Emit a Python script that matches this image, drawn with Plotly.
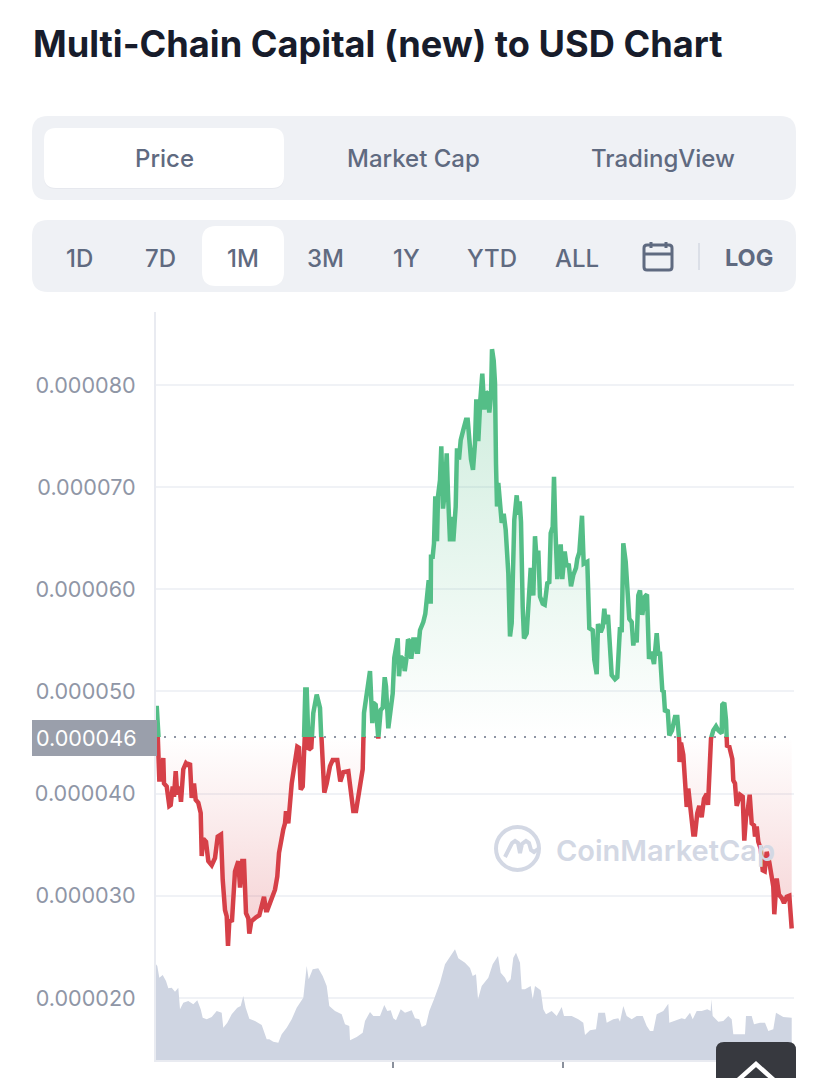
import plotly.graph_objects as go

W, H = 828, 1078

# price in millionths of a dollar, time in hours from the start of the window
price_hours = [0.7, 2, 3.3, 5, 6.3, 7.3, 8, 10.7, 13.3, 14.7, 16.7, 18, 19.7, 21.3, 23.3, 25, 27.3, 30, 32.3, 34, 35.7, 38, 39.7, 42.3, 44.7, 45.7, 47.3, 50, 52.3, 55.7, 59, 61.7, 65, 66.7, 69, 70.7, 72, 73.3, 76, 79, 82.3, 84, 86.3, 88, 90, 92.3, 93.3, 95.3, 100, 103.3, 108, 110, 111.3, 114, 119, 121.3, 123, 127.3, 129, 130, 132.3, 135.7, 139, 141.3, 143, 144.7, 146.7, 148, 149.3, 150.7, 152.7, 155.3, 157.3, 160.7, 164, 165.3, 166, 168.3, 170.7, 174, 176.7, 181.3, 184.3, 187.3, 192.3, 195, 197.3, 200, 204, 206.7,
               208, 210, 213, 214, 216.3, 217.3, 219.7, 222.3, 224.7, 226.7, 228.7, 230, 232.3, 234.7, 236.7, 238.3, 241.7, 243, 244.7, 247.3, 248.7, 250.7, 252, 253.7, 255.3, 257.3, 259, 260.7, 262, 264, 267.3, 269.3, 270.7, 272.7, 274.7, 275, 276.7, 278, 279.3, 281, 282, 284, 285.3, 287, 289, 290.7, 292, 294, 295.7, 297.3, 299.7, 301, 303, 304.7, 307.3, 310, 311.7, 313.3, 315, 317, 319, 320.3, 322.3, 324.3, 326.3, 328.3, 330, 331.3, 333.3, 335, 336, 337.7, 339, 340, 341, 342.3, 344, 345.7, 347.7, 349.7, 352.3, 354, 355.7, 358.3, 360.7, 362.3, 363.7, 365, 366.7, 368, 370.7, 373, 374.7, 377.3, 379, 380.7, 382.3, 384, 386.7, 388.7, 391.3, 393.3, 394.7, 396.7, 398, 399.3, 401.3, 404.7, 406.3, 408.7, 410.7, 412.7, 415, 417.3, 420, 421.3, 423.3, 426, 427.7, 431.3,
               433.3, 436.7, 438.3, 440.7, 442, 444.7, 446.7, 448.3, 449.7, 452, 454, 455.7, 459, 461.3, 464, 465.7, 467.3, 469.7, 473.3, 475.7, 477.3, 479, 480.7, 482.3, 484, 486.3, 489, 491, 493, 495.3, 498, 500.7, 502.3, 504, 506.3, 507.7, 509, 511.7, 513.3, 516, 519, 521.3, 523.3, 523.5, 525, 527.3, 529.3, 530.7, 532.3, 534.7, 537.3, 539, 541.3, 543.3, 545.7, 548, 550.7, 552, 553.7, 555, 557.3, 560, 562.3, 565.7, 566.3, 568.3, 570, 571, 573.3, 576.3, 577.3, 579, 580.7, 584, 586.7, 588.3, 590, 591.7, 593.7, 595.7, 598, 599, 600.7, 602.3, 604.7, 606.7, 608.7, 610.7, 613.3, 615.7, 617.3, 618.3, 620.7, 623, 625.7, 628, 630.7, 633.3, 634.7, 635.7]
price_micro = [48.6, 45.3, 41.4, 41.4, 43.5, 43.5, 41.0, 40.7, 38.8, 38.9, 40.7, 39.7, 42.2, 39.9, 40.7, 39.2, 42.4, 43.0, 42.8, 43.0, 39.6, 41.0, 39.4, 39.1, 38.1, 33.9, 35.6, 35.3, 33.4, 33.0, 33.7, 35.8, 36.0, 31.6, 28.6, 28.0, 25.1, 27.5, 27.6, 32.4, 33.4, 30.8, 33.4, 33.4, 28.3, 27.8, 26.3, 27.5, 27.9, 28.1, 29.9, 28.6, 28.6, 29.4, 30.6, 31.9, 34.2, 36.5, 37.1, 38.3, 37.1, 41.0, 43.3, 44.6, 44.5, 40.4, 40.7, 45.3, 50.2, 50.2, 44.3, 44.5, 47.9, 49.7, 48.4, 45.3, 43.8, 40.1, 41.0, 42.7, 43.3, 43.3, 41.2, 42.1, 42.2, 39.9, 38.3, 38.3, 41.0, 42.4,
               47.9, 49.3, 52.0, 52.0, 46.9, 48.9, 48.7, 45.4, 48.2, 48.4, 51.4, 50.5, 46.4, 48.2, 49.8, 53.3, 55.2, 51.5, 53.4, 53.2, 52.0, 53.4, 55.1, 54.9, 53.2, 55.1, 55.1, 53.9, 53.9, 56.0, 56.8, 57.6, 59.6, 60.9, 58.6, 63.2, 63.2, 64.5, 69.1, 64.7, 69.1, 70.7, 74.0, 67.9, 69.7, 73.3, 69.4, 64.7, 67.1, 64.7, 68.1, 73.8, 72.7, 74.6, 75.6, 76.6, 76.6, 74.0, 72.7, 71.7, 74.3, 78.6, 74.5, 78.5, 81.1, 77.6, 79.3, 79.2, 77.3, 78.9, 83.5, 82.4, 80.2, 72.3, 68.1, 70.4, 68.1, 66.5, 67.4, 65.8, 61.6, 55.4, 56.7, 66.8, 69.2, 67.3, 68.6, 66.6, 58.3, 55.2, 55.7, 59.0, 62.1, 59.4, 65.2, 62.8, 63.8, 59.3, 58.6, 58.5, 60.6, 60.7, 65.5, 66.1, 71.0, 66.1, 61.0, 64.4, 61.0, 63.7, 62.2, 62.5, 60.3, 61.4, 62.1, 63.0, 63.6, 67.2, 62.5, 62.7,
               56.2, 56.0, 53.1, 51.7, 56.6, 55.8, 56.3, 58.1, 56.6, 57.5, 53.1, 51.6, 51.2, 51.4, 56.3, 55.8, 64.5, 62.7, 57.1, 56.8, 54.5, 55.7, 54.8, 59.4, 59.9, 57.5, 59.3, 59.5, 53.2, 53.9, 52.7, 55.7, 53.7, 53.7, 50.1, 50.0, 48.0, 48.2, 45.7, 46.2, 47.5, 47.5, 45.1, 43.1, 45.0, 43.8, 41.0, 38.7, 40.5, 38.1, 36.0, 36.0, 38.1, 38.8, 37.7, 39.5, 40.0, 38.9, 42.0, 45.4, 46.2, 46.6, 46.2, 45.9, 48.7, 48.9, 47.2, 44.7, 44.6, 43.4, 41.3, 41.0, 38.8, 39.9, 39.7, 35.4, 37.7, 38.4, 39.9, 37.1, 36.9, 35.8, 36.8, 35.3, 34.6, 32.5, 32.4, 34.3, 33.3, 31.5, 30.9, 28.2, 31.7, 30.1, 29.8, 29.3, 29.9, 30.0, 28.7, 26.8]
reference_micro = 45.55

volume_hours = [0, 1.3, 3.3, 6.7, 10, 12.3, 15.7, 19, 22.3, 24, 27.3, 32.3, 37.3, 41.3, 44.7, 46.7, 50.7, 55.7, 60.7, 65.7, 67.3, 71.3, 75.7, 81.3, 84.7, 87.3, 89.7, 93.3, 99, 105.7, 110.7, 113.3, 117.3, 122.3, 125.7, 130.7, 135.7, 140.7, 147.3, 149, 150.7, 152.7, 156.7, 162.3, 166.7, 170.7, 173.3, 179, 185.7, 189, 193.3, 194, 200.7, 206.7, 209, 214, 217.3, 224, 228.3, 231.3, 234.7, 237.3, 240, 244.7, 249, 255.7, 259, 263.3, 265.7, 270, 273.3, 278, 284, 289, 295.7, 299, 302.3, 309, 314, 316.7, 320, 322, 325.7, 332.3, 336.7, 342, 344.7, 349, 351.3, 354.7, 357.3, 360, 364, 365.7, 369, 374.7, 376.7, 379, 384.7, 387.3, 390, 395.7, 400.7, 405.7, 408, 415.7, 422.3, 427.3, 429, 434, 440, 442.3, 449, 450.7, 457.3, 462.3, 464, 467.3, 470.7, 475.7, 480.7, 486.7, 490.7, 494, 497.3, 500.7, 507.3, 512.3, 513.3, 519, 525.7, 529, 534, 536.7, 540.7, 545.7, 551.3, 554.7, 555.3, 556.7, 562.3, 567.3, 572.3, 575.7, 577.3, 589, 590, 595.7, 598, 604, 609, 612.3, 617.3, 620, 627.3, 635.7]
volume_values = [95.7, 94, 82.3, 85, 79, 71.7, 72.3, 68.3, 72.3, 50.7, 57.3, 59, 55.7, 59.7, 50.7, 42.3, 40.7, 43, 49, 47.3, 32.3, 37.3, 45.7, 52.3, 54, 64, 52.3, 41.3, 39, 35, 20.7, 20.7, 18.3, 17.3, 25.7, 32.3, 40.7, 52.3, 62.3, 80.7, 94, 80.7, 90.7, 91.7, 84, 74, 54, 49, 45.7, 35.7, 34, 19.7, 23, 27.3, 39, 48, 44, 44, 55, 49, 49.7, 41.7, 39.7, 50.7, 47.3, 49.7, 41.7, 40.7, 33, 35, 49, 60.7, 77.3, 95.7, 105.7, 110.7, 101.7, 97.3, 92, 84, 85.7, 60.7, 74, 82.3, 95.7, 104, 87.3, 82.3, 77.3, 80.7, 102.3, 107.3, 97.3, 70.7, 70.7, 74, 60.7, 74, 69.7, 50.7, 45.7, 49, 44, 53, 44, 44, 40.7, 37.3, 25, 29.7, 30.7, 47.3, 47.3, 37.3, 40.7, 41.7, 38.3, 54, 44, 40.7, 44, 44, 34, 29, 29, 45.7, 49, 56.3, 37.3, 39, 41.7, 40.7, 47.3, 40.7, 49, 49, 50.7, 49, 60.7, 44, 38.3, 39, 44, 40.7, 25.7, 25.7, 44, 44, 35.7, 37.3, 37.3, 29, 30.7, 47.3, 43, 42.3]

y_ticks = [20, 30, 40, 50, 60, 70, 80]
y_tick_labels = ["0.000020", "0.000030", "0.000040", "0.000050", "0.000060", "0.000070", "0.000080"]
x_ticks = [237, 407, 577]

tabs = ["Price", "Market Cap", "TradingView"]
ranges = ["1D", "7D", "1M", "3M", "1Y", "YTD", "ALL"]

FONT = "Inter"
GREEN = "rgb(84,190,135)"
RED = "rgb(214,64,72)"
GRID = "#f0f2f6"
PANEL = "#eff1f5"
SLATE = "#5f6a80"
MARK = "#d3d8e4"

# plot box in page pixels
LEFT, RIGHT, TOP, BOTTOM, BASE = 156, 794, 312, 1060, 737
Y_MIN, Y_MAX = 13.93, 87.14


def fx(x):
    return x / W


def fy(y):
    return 1 - y / H


def rrect(x0, y0, x1, y1, r, fill):
    path = (f"M {fx(x0 + r)} {fy(y0)} L {fx(x1 - r)} {fy(y0)} Q {fx(x1)} {fy(y0)} {fx(x1)} {fy(y0 + r)} "
            f"L {fx(x1)} {fy(y1 - r)} Q {fx(x1)} {fy(y1)} {fx(x1 - r)} {fy(y1)} "
            f"L {fx(x0 + r)} {fy(y1)} Q {fx(x0)} {fy(y1)} {fx(x0)} {fy(y1 - r)} "
            f"L {fx(x0)} {fy(y0 + r)} Q {fx(x0)} {fy(y0)} {fx(x0 + r)} {fy(y0)} Z")
    return dict(type="path", xref="paper", yref="paper", path=path, fillcolor=fill, line=dict(width=0), layer="above")


def stroke(points, color, width):
    path = "M " + " L ".join(f"{fx(a)} {fy(b)}" for a, b in points)
    return dict(type="path", xref="paper", yref="paper", path=path, line=dict(color=color, width=width), layer="above")


def label(x, y, text, size, color, weight=500, anchor="center"):
    return dict(xref="paper", yref="paper", x=fx(x), y=fy(y), text=text, showarrow=False, xanchor=anchor,
                yanchor="middle", font=dict(family=FONT, size=size, color=color, weight=weight))


fig = go.Figure()

scale = 1e-6
price = [v * scale for v in price_micro]
reference = reference_micro * scale

# volume sits under everything else
fig.add_trace(go.Scatter(x=volume_hours, y=volume_values, yaxis="y4", mode="lines", line=dict(width=0),
                         fill="tozeroy", fillcolor="#cfd5e2", hoverinfo="skip"))

# same line twice: each half is cut off by its own axis at the reference price
fig.add_trace(go.Scatter(x=price_hours, y=price, yaxis="y2", mode="lines", line=dict(color=GREEN, width=4.5),
                         fill="tozeroy",
                         fillgradient=dict(type="vertical", start=reference, stop=83e-6,
                                           colorscale=[[0, "rgba(84,190,135,0)"], [1, "rgba(84,190,135,0.30)"]])))
fig.add_trace(go.Scatter(x=[price_hours[0], price_hours[-1]], y=[reference, reference], yaxis="y3", mode="lines",
                         line=dict(width=0), hoverinfo="skip"))
fig.add_trace(go.Scatter(x=price_hours, y=price, yaxis="y3", mode="lines", line=dict(color=RED, width=4.5),
                         fill="tonexty",
                         fillgradient=dict(type="vertical", start=26e-6, stop=reference,
                                           colorscale=[[0, "rgba(214,64,72,0.24)"], [1, "rgba(214,64,72,0)"]])))

# dotted reference line
fig.add_trace(go.Scatter(x=[8, 636], y=[reference, reference], mode="lines",
                         line=dict(color="#8f96a4", width=2, dash="2px,8px"), hoverinfo="skip"))

shapes = [
    rrect(32, 116, 796, 200, 16, PANEL),
    rrect(44, 129, 284, 189, 12, "#e6e8ee"),
    rrect(44, 128, 284, 188, 12, "white"),
    rrect(32, 220, 796, 292, 16, PANEL),
    rrect(202, 226, 284, 286, 14, "white"),
    rrect(32, 720, 157, 756, 0, "#9a9fab"),
    # calendar
    dict(type="path", xref="paper", yref="paper", layer="above", line=dict(color=SLATE, width=3),
         path=rrect(644, 245, 672, 270, 3, SLATE)["path"]),
    stroke([(644, 254), (672, 254)], SLATE, 3),
    stroke([(651, 242), (651, 248)], SLATE, 3),
    stroke([(666, 242), (666, 248)], SLATE, 3),
    stroke([(699, 243), (699, 270)], "#d5d9e2", 1.5),
    # watermark logo
    dict(type="circle", xref="paper", yref="paper", layer="above", x0=fx(496), x1=fx(539), y0=fy(870), y1=fy(827),
         line=dict(color=MARK, width=4)),
    stroke([(505, 857), (512, 843), (515, 841), (518, 843), (520, 853), (522, 844), (526, 841), (529, 843),
            (531, 850), (534, 852), (538, 849)], MARK, 4),
    # scroll-to-top button
    rrect(716, 1042, 796, 1090, 8, "#37393f"),
    stroke([(737, 1081), (756, 1064), (775, 1081)], "white", 4.5),
]

annotations = [
    label(31, 44, "Multi-Chain Capital (new) to USD Chart", 36.2, "#171c2b", 700, "left"),
    label(86.5, 738, "0.000046", 21.6, "white", 400),
    label(665.5, 850, "CoinMarketCap", 29, MARK, 600),
]
for name, cx in zip(tabs, [164, 413, 663]):
    annotations.append(label(cx, 158, name, 24, SLATE, 500))
for name, cx in zip(ranges, [79, 160, 243, 325, 406, 492, 577]):
    annotations.append(label(cx, 258, name, 24, SLATE, 500))
annotations.append(label(749, 257, "LOG", 23.5, SLATE, 700))

fig.update_layout(
    width=W, height=H, autosize=False, margin=dict(l=0, r=0, t=0, b=0),
    paper_bgcolor="white", plot_bgcolor="rgba(0,0,0,0)", showlegend=False, hovermode=False,
    font=dict(family=FONT),
    shapes=shapes, annotations=annotations,
    xaxis=dict(domain=[fx(LEFT), fx(RIGHT)], range=[0, RIGHT - LEFT], showgrid=False, zeroline=False,
               tickmode="array", tickvals=x_ticks, ticktext=["", "", ""], ticks="outside", ticklen=6,
               tickwidth=1.5, tickcolor="#8a909c", showline=True, linecolor="#e9ebf1", linewidth=2),
    yaxis=dict(domain=[fy(BOTTOM), fy(TOP)], range=[Y_MIN * scale, Y_MAX * scale], tickmode="array",
               tickvals=[v * scale for v in y_ticks], ticktext=y_tick_labels, showgrid=True, gridcolor=GRID,
               gridwidth=2, zeroline=False, showline=True, linecolor="#e9ebf1", linewidth=2, ticks="",
               ticklabelstandoff=14, tickfont=dict(family=FONT, size=21.6, color="#8f96a6")),
    yaxis2=dict(domain=[fy(BASE), fy(TOP)], range=[reference, Y_MAX * scale], visible=False, anchor="x"),
    yaxis3=dict(domain=[fy(BOTTOM), fy(BASE)], range=[Y_MIN * scale, reference], visible=False, anchor="x"),
    yaxis4=dict(domain=[fy(BOTTOM), fy(BOTTOM - 120)], range=[0, 120], visible=False, anchor="x"),
)

fig.write_html("out.html", post_script="document.body.style.margin='0';", config=dict(displayModeBar=False))
